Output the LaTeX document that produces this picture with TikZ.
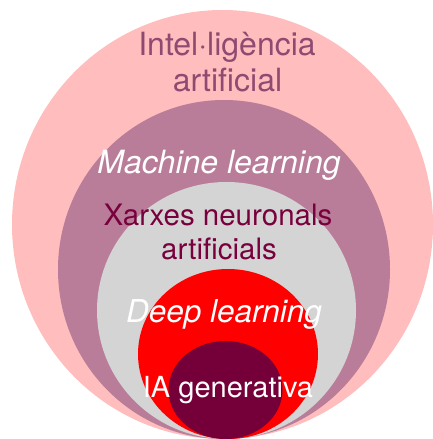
\documentclass[tikz,border=0pt]{standalone}
\usepackage{fontspec}
\setmainfont{TeX Gyre Heros}
\usetikzlibrary{shapes.geometric}
\definecolor{aipink}{RGB}{255,189,189}
\definecolor{mlmauve}{RGB}{185,125,153}
\definecolor{nngrey}{RGB}{212,212,212}
\definecolor{dlred}{RGB}{255,0,0}
\definecolor{genmaroon}{RGB}{117,0,57}
\definecolor{aitext}{RGB}{143,74,114}
\definecolor{nntext}{RGB}{120,0,60}
\tikzset{
  blob/.style={ellipse, draw=none, inner sep=0pt, outer sep=0pt},
  lbl/.style={anchor=base, inner sep=0pt, outer sep=0pt}
}
\begin{document}
\begin{tikzpicture}[x=1pt,y=1pt]
\useasboundingbox (0,0) rectangle (433,439);
% ellipses (image coords: y_tikz = 439 - y_img)
\node[blob, fill=aipink, minimum width=421, minimum height=429] (ai) at (222.5,214.5) {};
\node[blob, fill=mlmauve, minimum width=332, minimum height=339] (ml) at (224,169.5) {};
\node[blob, fill=nngrey, minimum width=259, minimum height=257] (nn) at (226.5,128.5) {};
\node[blob, fill=dlred, minimum width=180, minimum height=170] (dl) at (228,85) {};
\node[blob, fill=genmaroon, minimum width=114, minimum height=98] (gen) at (225.5,49) {};
% labels
\node[lbl, text=aitext, font=\fontsize{32}{36}\selectfont] (ai1) at (227,383) {Intel·ligència};
\node[lbl, text=aitext, font=\fontsize{32}{36}\selectfont] (ai2) at (227.5,347) {artificial};
\node[lbl, text=white, font=\fontsize{32}{36}\selectfont\itshape] (mlt) at (219,265) {Machine learning};
\node[lbl, text=nntext, font=\fontsize{29.5}{34}\selectfont] (nn1) at (218,213) {Xarxes neuronals};
\node[lbl, text=nntext, font=\fontsize{29.5}{34}\selectfont] (nn2) at (219,179) {artificials};
\node[lbl, text=white, font=\fontsize{31.5}{36}\selectfont\itshape] (dlt) at (224,116) {Deep learning};
\node[lbl, text=white, font=\fontsize{29}{34}\selectfont] (gent) at (228,41) {IA generativa};
\end{tikzpicture}
\end{document}
